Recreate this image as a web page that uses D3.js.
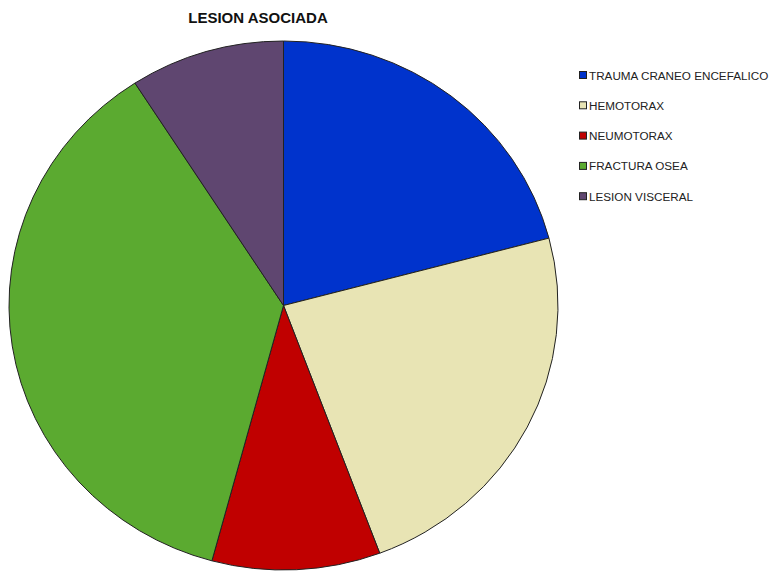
<!DOCTYPE html>
<html>
<head>
<meta charset="utf-8">
<script src="https://cdn.jsdelivr.net/npm/d3@7"></script>
<style>
  body { margin: 0; background: #fff; }
  text { font-family: "Liberation Sans", Arial, sans-serif; }
</style>
</head>
<body>
<script>
// data (percent of cases)
var categories = ["TRAUMA CRANEO ENCEFALICO", "HEMOTORAX", "NEUMOTORAX", "FRACTURA OSEA", "LESION VISCERAL"];
var percents = [20.9, 23.4, 9.9, 36.7, 9.1];
var colors = ["#0033CC", "#E8E4B4", "#C00000", "#5BAA30", "#5F4670"];

var width = 769, height = 571;
var cx = 283.5, cy = 305.5, rx = 274.5, ry = 264.5;

var svg = d3.select("body").append("svg")
    .attr("width", width)
    .attr("height", height);

svg.append("text")
    .attr("x", 258)
    .attr("y", 23)
    .attr("text-anchor", "middle")
    .style("font-weight", "bold")
    .style("font-size", "15px")
    .style("fill", "#111")
    .text("LESION ASOCIADA");

var data = categories.map(function(c, i) { return {name: c, value: percents[i], color: colors[i]}; });

var pie = d3.pie()
    .sort(null)
    .value(function(d) { return d.value; });

var arc = d3.arc()
    .innerRadius(0)
    .outerRadius(rx);

// pie is slightly squashed vertically
var g = svg.append("g")
    .attr("transform", "translate(" + cx + "," + cy + ") scale(1," + (ry / rx) + ")");

g.selectAll("path")
    .data(pie(data))
  .enter().append("path")
    .attr("d", arc)
    .attr("fill", function(d) { return d.data.color; })
    .attr("stroke", "#222")
    .attr("stroke-width", 1)
    .attr("vector-effect", "non-scaling-stroke");

//legend
var legend = svg.append("g")
    .attr("transform", "translate(579,70)");

var item = legend.selectAll("g")
    .data(data)
  .enter().append("g")
    .attr("transform", function(d, i) { return "translate(0," + (i * 30.3) + ")"; });

item.append("rect")
    .attr("width", 7)
    .attr("height", 7)
    .attr("x", 0.5)
    .attr("y", 1.5)
    .attr("fill", function(d) { return d.color; })
    .attr("stroke", "#222")
    .attr("stroke-width", 1);

item.append("text")
    .attr("x", 10)
    .attr("y", 9.5)
    .style("font-size", "11.7px")
    .style("fill", "#222")
    .text(function(d) { return d.name; });
</script>
</body>
</html>
